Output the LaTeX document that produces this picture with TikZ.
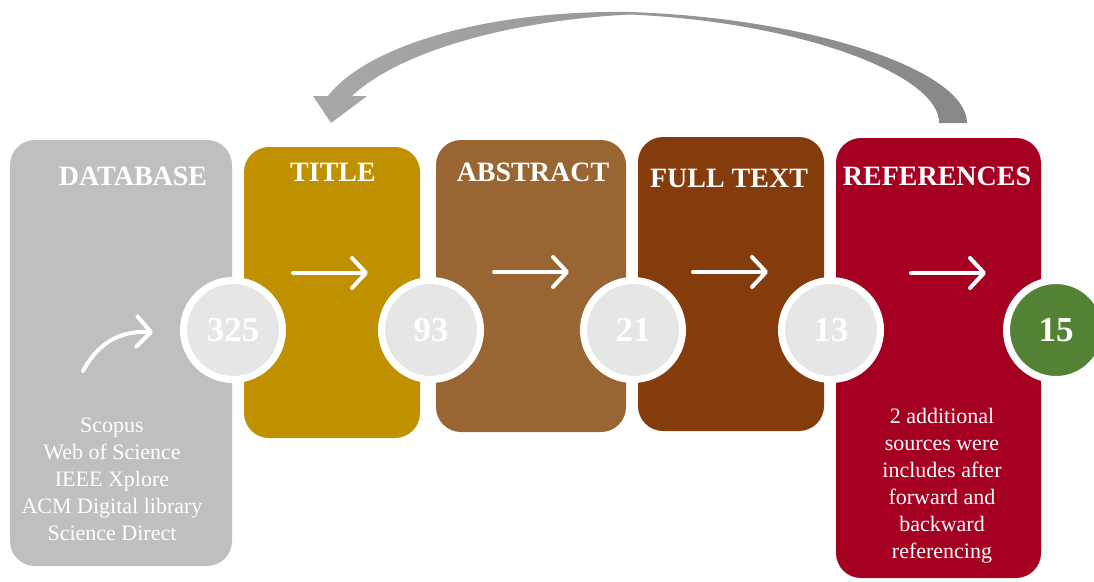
\documentclass[tikz,border=0pt]{standalone}
\usepackage{fontspec}
\setmainfont{Liberation Serif}
\usetikzlibrary{arrows.meta}
\definecolor{dbgray}{HTML}{BFBFBF}
\definecolor{titlegold}{HTML}{BF9000}
\definecolor{abstrbrown}{HTML}{996633}
\definecolor{fullbrown}{HTML}{843C0C}
\definecolor{refred}{HTML}{A50021}
\definecolor{countgray}{HTML}{E6E6E6}
\definecolor{finalgreen}{HTML}{548235}
\definecolor{loopdark}{HTML}{878787}
\definecolor{looplight}{HTML}{A8A8A8}
\begin{document}
\begin{tikzpicture}[x=1pt,y=-1pt,
  stage/.style={rounded corners=25pt, inner sep=0pt},
  head/.style={text=white, inner sep=0pt, font=\fontsize{28}{31}\selectfont\bfseries},
  body/.style={text=white, align=center, inner sep=0pt, font=\fontsize{22}{27}\selectfont},
  count/.style={circle, draw=white, line width=7pt, minimum size=99pt, inner sep=0pt,
                text=white, font=\fontsize{35}{37}\selectfont\bfseries},
  flow/.style={white, line width=4pt, line cap=round,
               -{Straight Barb[length=14pt,width=30pt,round]}}]
\useasboundingbox (0,0) rectangle (1094,581);

% stage boxes
\node[stage, fill=dbgray, minimum width=222pt, minimum height=426pt] (db) at (121,353) {};
\node[stage, fill=titlegold, minimum width=176pt, minimum height=291pt] (ti) at (332,292.5) {};
\node[stage, fill=abstrbrown, minimum width=190pt, minimum height=292pt] (ab) at (531,286) {};
\node[stage, fill=fullbrown, minimum width=186pt, minimum height=294pt] (ft) at (731,284) {};
\node[stage, fill=refred, minimum width=205pt, minimum height=440pt] (rf) at (938.5,358) {};

% stage headings
\node[head] (dbh) at (133,176) {DATABASE};
\node[head] (tih) at (333,172) {TITLE};
\node[head] (abh) at (533,172) {ABSTRACT};
\node[head] (fth) at (729,178) {FULL TEXT};
\node[head] (rfh) at (937,176) {REFERENCES};

% descriptions
\node[body] (dbt) at (112,479) {Scopus\\Web of Science\\IEEE Xplore\\ACM Digital library\\Science Direct};
\node[body] (rft) at (942,486) {2 additional\\sources were\\includes after\\forward and\\backward\\referencing};

% arrows inside the stages
\coordinate (c0a) at (83,371);
\coordinate (c0b) at (153,332);
\draw[flow] (c0a) .. controls (100,340) and (122,331) .. (c0b);
\coordinate (c1a) at (293,273);  \coordinate (c1b) at (368,273);
\coordinate (c2a) at (494,272);  \coordinate (c2b) at (569,272);
\coordinate (c3a) at (693,272);  \coordinate (c3b) at (768,272);
\coordinate (c4a) at (911,273);  \coordinate (c4b) at (986,273);
\draw[flow] (c1a) -- (c1b);
\draw[flow] (c2a) -- (c2b);
\draw[flow] (c3a) -- (c3b);
\draw[flow] (c4a) -- (c4b);

% counts after each stage
\node[count, fill=countgray] (n325) at (233,330) {325};
\node[count, fill=countgray] (n93) at (431,330) {93};
\node[count, fill=countgray] (n21) at (633,330) {21};
\node[count, fill=countgray] (n13) at (831,330) {13};
\node[count, fill=finalgreen] (n15) at (1056,330) {15};

% loop back from references to title
\shade[left color=looplight, middle color=gray!20, right color=loopdark]
  (967,123) .. controls (967,70) and (810,18) .. (630,12)
  .. controls (480,10) and (365,48) .. (328,96)
  -- (313,96) -- (331,123) -- (367,96) -- (352,96)
  .. controls (395,55) and (500,21) .. (630,14.5)
  .. controls (800,22) and (940,75) .. (939,123) -- cycle;
\end{tikzpicture}
\end{document}
